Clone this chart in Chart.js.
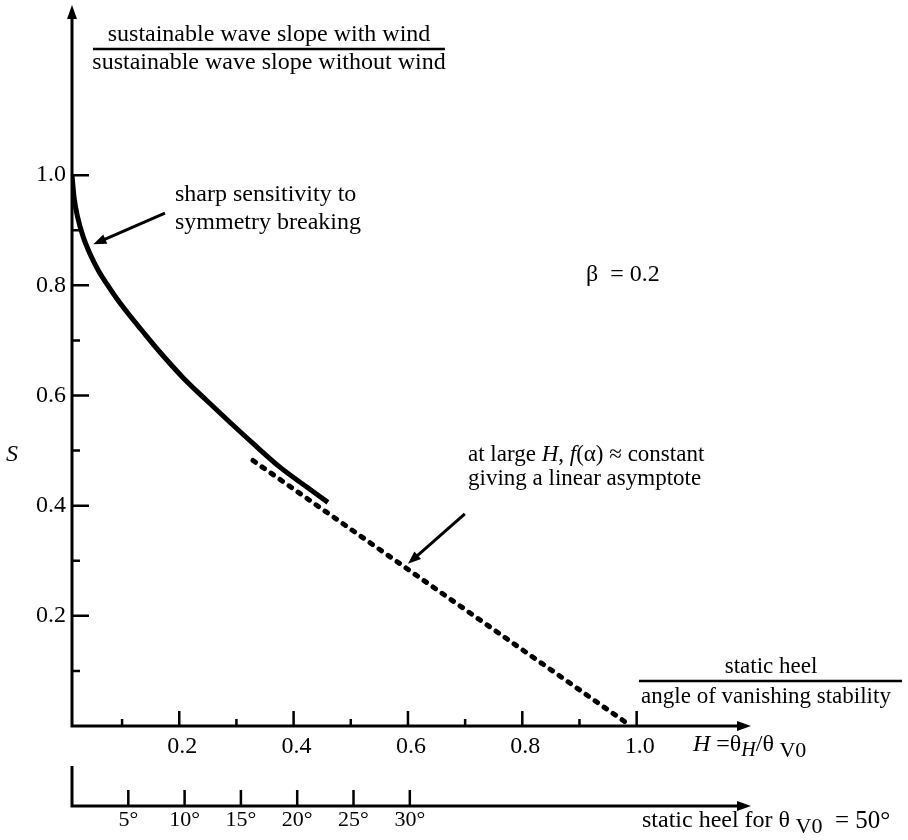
<!DOCTYPE html>
<html>
<head>
<meta charset="utf-8">
<script src="https://cdn.jsdelivr.net/npm/chart.js@4.4.1/dist/chart.umd.min.js"></script>
<style>
  body { margin: 0; background: #fff; }
  canvas { display: block; }
</style>
</head>
<body>
<canvas id="waveChart" width="908" height="840"></canvas>
<script>
// curve: H = static heel / angle of vanishing stability, S = slope ratio
const hVals = [0.0124, 0.016, 0.022, 0.032, 0.044, 0.058, 0.073, 0.09, 0.112, 0.134, 0.166, 0.207, 0.248, 0.289, 0.329, 0.376, 0.423, 0.460];
const sVals = [1.0, 0.96, 0.925, 0.888, 0.857, 0.828, 0.803, 0.777, 0.747, 0.719, 0.679, 0.632, 0.591, 0.551, 0.513, 0.470, 0.434, 0.406];
// linear asymptote (dashed)
const asymH = [0.329, 0.99];
const asymS = [0.482, 0.0];
// ticks
const hTicks = [0.2, 0.4, 0.6, 0.8, 1.0];
const hMinor = [0.1, 0.3, 0.5, 0.7, 0.9];
const sTicks = [0.2, 0.4, 0.6, 0.8, 1.0];
const sMinor = [0.1, 0.3, 0.5, 0.7, 0.9];
const degTicks = [5, 10, 15, 20, 25, 30];

const serif = '"Liberation Serif", "Times New Roman", serif';
const fnt = (size, style) => (style ? style + ' ' : '') + size + 'px ' + serif;

function toPoints(xs, ys) {
  return xs.map((x, i) => ({ x: x, y: ys[i] }));
}

// draws a line of text made of several runs (italic, subscripts...)
function drawRuns(ctx, parts, x, y, align) {
  let total = 0;
  parts.forEach(p => { ctx.font = p.font; total += ctx.measureText(p.t).width; });
  let cx = align === 'center' ? x - total / 2 : (align === 'right' ? x - total : x);
  ctx.textAlign = 'left';
  ctx.textBaseline = 'middle';
  parts.forEach(p => {
    ctx.font = p.font;
    ctx.fillText(p.t, cx, y + (p.dy || 0));
    cx += ctx.measureText(p.t).width;
  });
}

function arrowHead(ctx, x1, y1, x2, y2, len, half) {
  const a = Math.atan2(y2 - y1, x2 - x1);
  ctx.beginPath();
  ctx.moveTo(x2, y2);
  ctx.lineTo(x2 - len * Math.cos(a) + half * Math.sin(a), y2 - len * Math.sin(a) - half * Math.cos(a));
  ctx.lineTo(x2 - len * Math.cos(a) - half * Math.sin(a), y2 - len * Math.sin(a) + half * Math.cos(a));
  ctx.closePath();
  ctx.fill();
}

function arrow(ctx, x1, y1, x2, y2, w) {
  const a = Math.atan2(y2 - y1, x2 - x1);
  ctx.lineWidth = w;
  ctx.beginPath();
  ctx.moveTo(x1, y1);
  ctx.lineTo(x2 - 8 * Math.cos(a), y2 - 8 * Math.sin(a));
  ctx.stroke();
  arrowHead(ctx, x1, y1, x2, y2, 13, 5);
}

const axesPlugin = {
  id: 'axesPlugin',
  afterDraw(chart) {
    const ctx = chart.ctx;
    const xs = chart.scales.x, ys = chart.scales.y, ds = chart.scales.deg;
    const x0 = xs.left;
    const y0 = ys.getPixelForValue(0);
    const right = xs.right;
    const degY = y0 + 80;
    ctx.save();
    ctx.fillStyle = '#000';
    ctx.strokeStyle = '#000';
    ctx.lineCap = 'butt';

    // main axes
    ctx.lineWidth = 3;
    ctx.beginPath();
    ctx.moveTo(x0, y0 + 1.5);
    ctx.lineTo(x0, ys.top + 10);
    ctx.moveTo(x0 - 1.5, y0);
    ctx.lineTo(right - 10, y0);
    ctx.stroke();
    arrowHead(ctx, x0, y0, x0, ys.top, 14, 5);
    arrowHead(ctx, x0, y0, right, y0, 14, 5);

    // inward ticks
    ctx.lineWidth = 2.5;
    ctx.beginPath();
    sTicks.forEach(v => { const p = ys.getPixelForValue(v); ctx.moveTo(x0, p); ctx.lineTo(x0 + 17, p); });
    sMinor.forEach(v => { const p = ys.getPixelForValue(v); ctx.moveTo(x0, p); ctx.lineTo(x0 + 8, p); });
    hTicks.forEach(v => { const p = xs.getPixelForValue(v); ctx.moveTo(p, y0); ctx.lineTo(p, y0 - 15); });
    hMinor.forEach(v => { const p = xs.getPixelForValue(v); ctx.moveTo(p, y0); ctx.lineTo(p, y0 - 7); });
    ctx.stroke();

    // tick labels
    ctx.font = fnt(24);
    ctx.textBaseline = 'middle';
    ctx.textAlign = 'right';
    sTicks.forEach(v => ctx.fillText(v.toFixed(1), x0 - 6, ys.getPixelForValue(v)));
    ctx.textAlign = 'center';
    hTicks.forEach(v => ctx.fillText(v.toFixed(1), xs.getPixelForValue(v) + 3, y0 + 21));

    // degree axis
    ctx.lineWidth = 3;
    ctx.beginPath();
    ctx.moveTo(x0, degY - 40);
    ctx.lineTo(x0, degY + 1.5);
    ctx.moveTo(x0 - 1.5, degY);
    ctx.lineTo(right - 10, degY);
    ctx.stroke();
    arrowHead(ctx, x0, degY, right, degY, 14, 5);
    ctx.lineWidth = 2.5;
    ctx.beginPath();
    degTicks.forEach(v => { const p = ds.getPixelForValue(v); ctx.moveTo(p, degY); ctx.lineTo(p, degY - 16); });
    ctx.stroke();
    ctx.font = fnt(22);
    ctx.textAlign = 'center';
    degTicks.forEach(v => ctx.fillText(v + '\u00b0', ds.getPixelForValue(v), degY + 14));

    // y title (fraction)
    ctx.textAlign = 'center';
    ctx.font = fnt(24);
    ctx.fillText('sustainable wave slope with wind', 269, 35);
    ctx.fillText('sustainable wave slope without wind', 269, 63);
    ctx.lineWidth = 2.5;
    ctx.beginPath();
    ctx.moveTo(93, 49); ctx.lineTo(445, 49);
    ctx.stroke();
    drawRuns(ctx, [{ t: 'S', font: fnt(24, 'italic') }], 12, 455, 'center');

    // x title (fraction)
    ctx.font = fnt(23);
    ctx.textAlign = 'center';
    ctx.fillText('static heel', 771, 667);
    ctx.fillText('angle of vanishing stability', 766, 697);
    ctx.beginPath();
    ctx.moveTo(639, 681); ctx.lineTo(902, 681);
    ctx.stroke();
    drawRuns(ctx, [
      { t: 'H', font: fnt(24, 'italic') },
      { t: ' =\u03b8', font: fnt(24) },
      { t: 'H', font: fnt(20, 'italic'), dy: 6 },
      { t: '/\u03b8', font: fnt(24) },
      { t: ' V0', font: fnt(22), dy: 6 }
    ], 693, 745, 'left');
    drawRuns(ctx, [
      { t: 'static heel for \u03b8', font: fnt(24) },
      { t: ' V0', font: fnt(22), dy: 6 },
      { t: '  = 50\u00b0', font: fnt(25) }
    ], 642, 821, 'left');

    // annotations
    ctx.textAlign = 'left';
    ctx.font = fnt(24);
    ctx.fillText('sharp sensitivity to', 175, 195);
    ctx.fillText('symmetry breaking', 175, 223);
    arrow(ctx, xs.getPixelForValue(0.175), ys.getPixelForValue(0.931),
               xs.getPixelForValue(0.0497), ys.getPixelForValue(0.8745), 3);
    drawRuns(ctx, [
      { t: '\u03b2', font: fnt(24) },
      { t: '  = 0.2', font: fnt(24) }
    ], 586, 275, 'left');
    drawRuns(ctx, [
      { t: 'at large ', font: fnt(23) },
      { t: 'H', font: fnt(23, 'italic') },
      { t: ', ', font: fnt(23) },
      { t: 'f', font: fnt(23, 'italic') },
      { t: '(\u03b1) \u2248 constant', font: fnt(23) }
    ], 468, 455, 'left');
    ctx.font = fnt(23);
    ctx.textAlign = 'left';
    ctx.fillText('giving a linear asymptote', 468, 479);
    arrow(ctx, xs.getPixelForValue(0.6995), ys.getPixelForValue(0.385),
               xs.getPixelForValue(0.6), ys.getPixelForValue(0.2945), 3);
    ctx.restore();
  }
};

const ctx = document.getElementById('waveChart').getContext('2d');
const waveChart = new Chart(ctx, {
  type: 'scatter',
  data: {
    datasets: [
      {
        label: 'S',
        data: toPoints(hVals, sVals),
        showLine: true,
        borderColor: '#000',
        borderWidth: 5,
        pointRadius: 0,
        cubicInterpolationMode: 'monotone',
        borderCapStyle: 'butt'
      },
      {
        label: 'asymptote',
        data: toPoints(asymH, asymS),
        showLine: true,
        borderColor: '#000',
        borderWidth: 5,
        pointRadius: 0,
        borderDash: [3, 8],
        borderCapStyle: 'round'
      }
    ]
  },
  options: {
    responsive: false,
    animation: false,
    events: [],
    layout: { padding: { left: 72, right: 157, top: 5, bottom: 114 } },
    plugins: { legend: { display: false }, tooltip: { enabled: false } },
    scales: {
      x: { type: 'linear', display: false, min: 0.0124, max: 1.2 },
      y: { type: 'linear', display: false, min: 0, max: 1.309 },
      deg: { type: 'linear', axis: 'x', display: false, min: 0, max: 60.3 }
    }
  },
  plugins: [axesPlugin]
});
</script>
</body>
</html>
